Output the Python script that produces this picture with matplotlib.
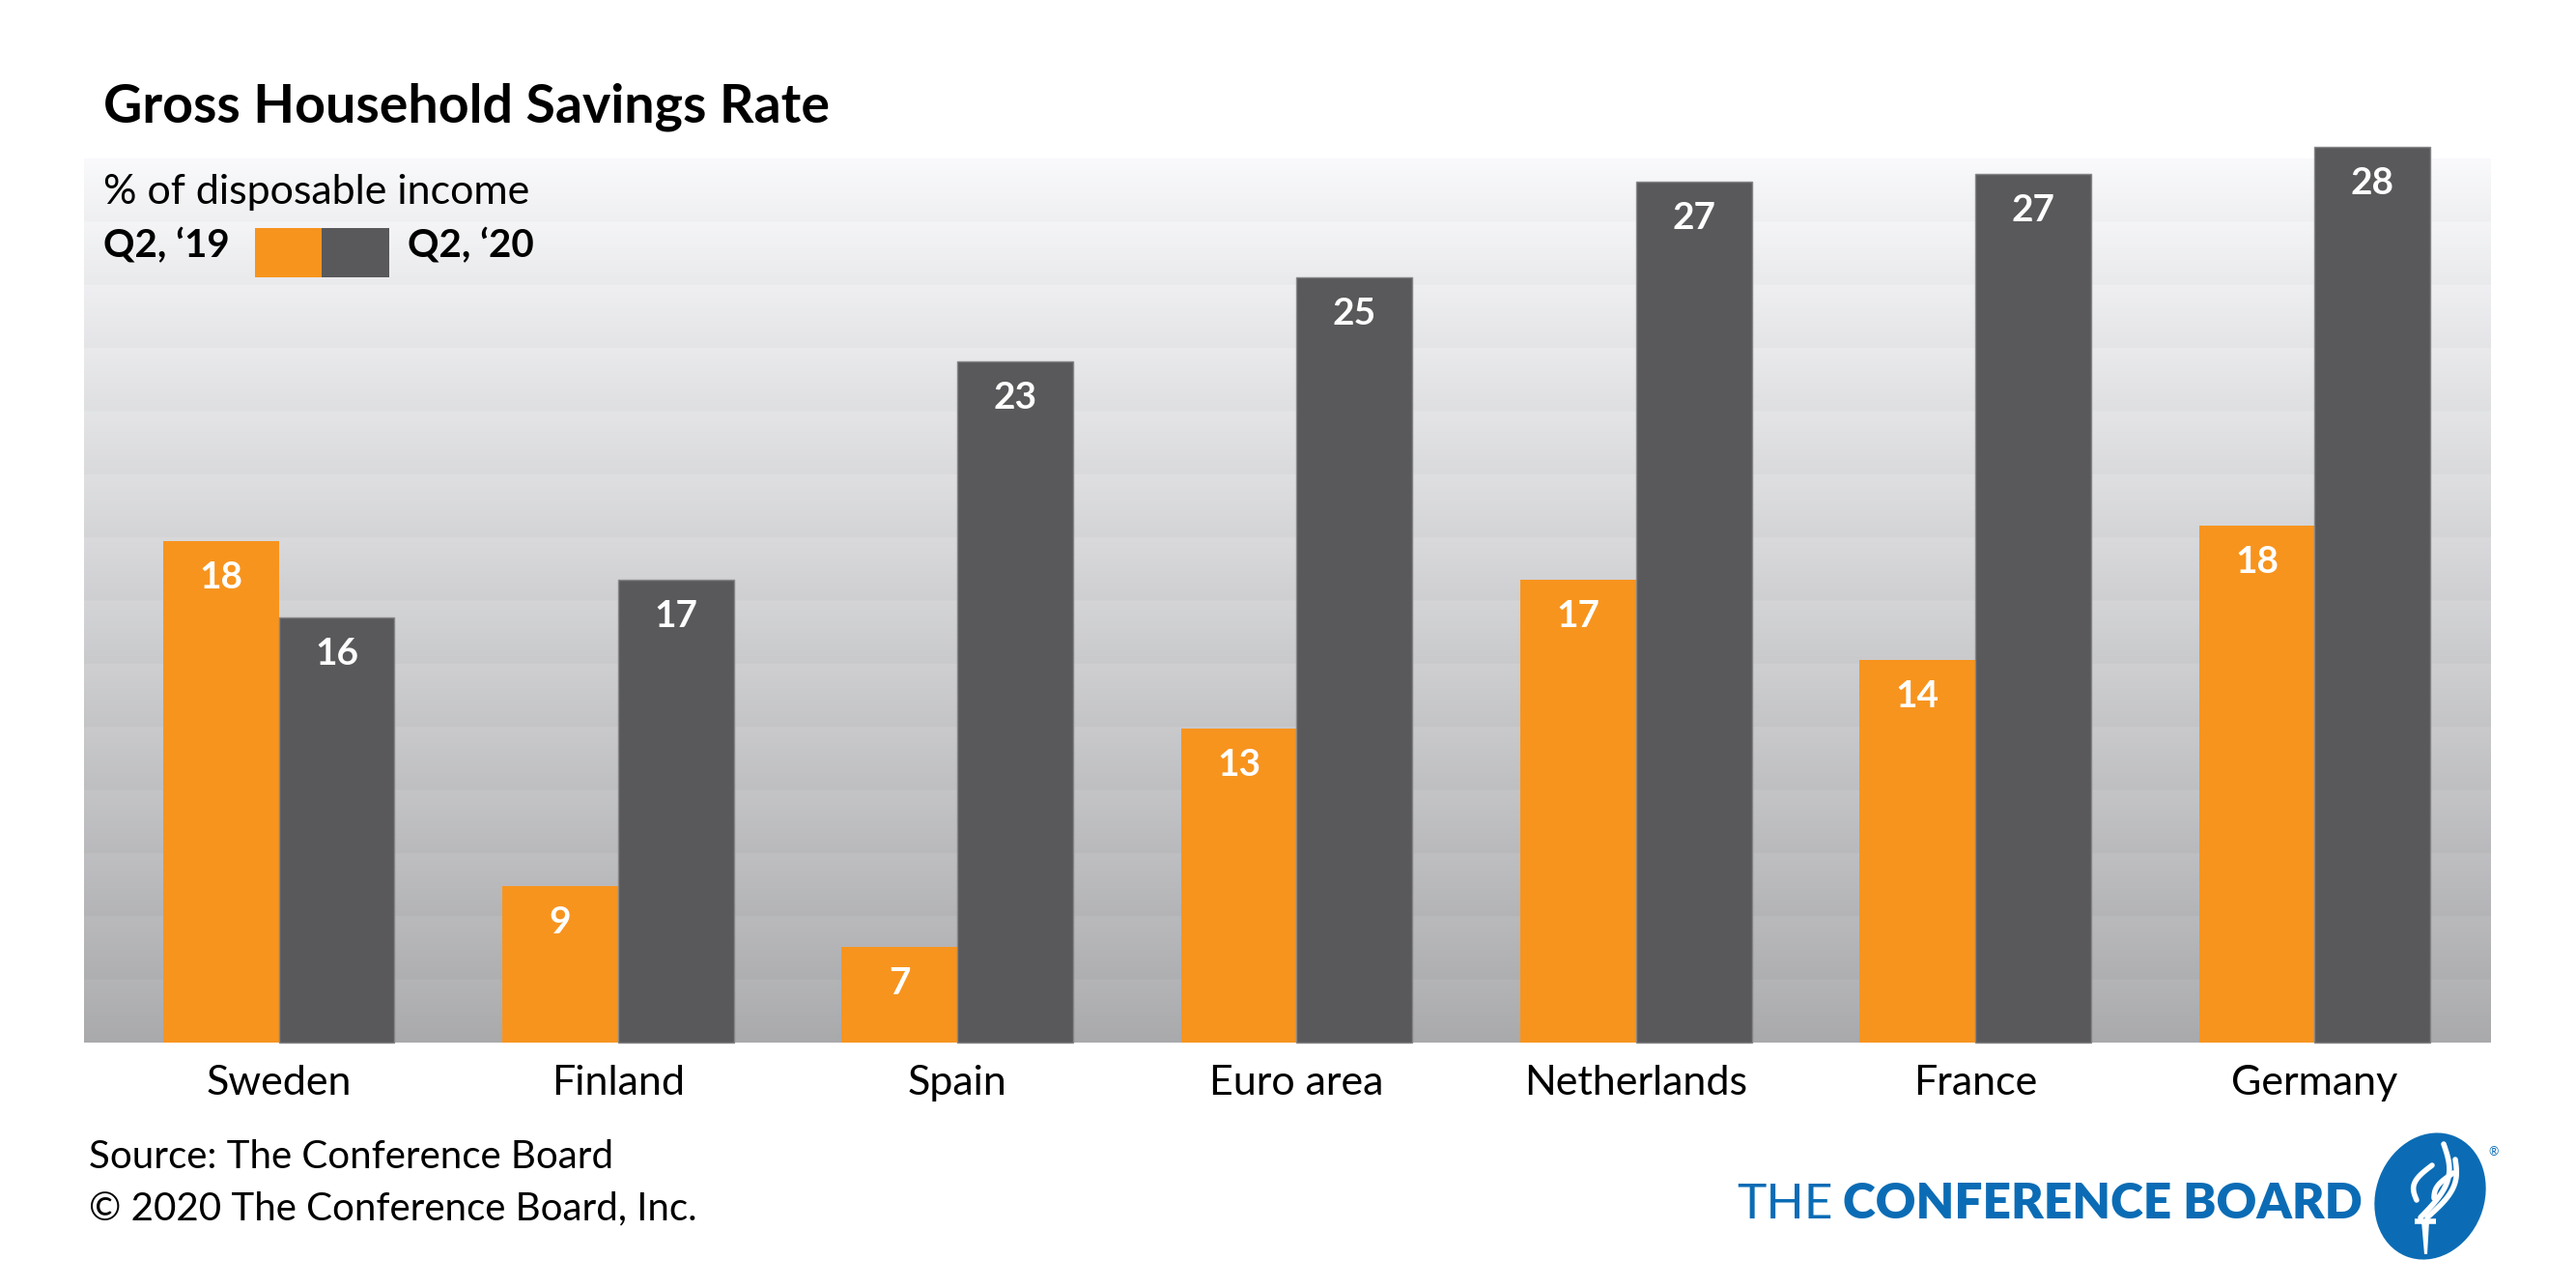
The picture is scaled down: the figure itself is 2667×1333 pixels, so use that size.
import numpy as np
import matplotlib.pyplot as plt
from matplotlib.patches import Ellipse, Rectangle

countries = ["Sweden", "Finland", "Spain", "Euro area", "Netherlands", "France", "Germany"]
# bar heights (the bars start from ~4.7, not from zero)
q2_19 = [17.8, 8.8, 7.2, 12.9, 16.8, 14.7, 18.2]
q2_20 = [15.8, 16.8, 22.5, 24.7, 27.2, 27.4, 28.1]
# numbers printed on the bars
q2_19_labels = [18, 9, 7, 13, 17, 14, 18]
q2_20_labels = [16, 17, 23, 25, 27, 27, 28]
series_names = ["Q2, \u201819", "Q2, \u201820"]

y_base = 4.7
y_top = 27.8

ORANGE = "#f7941e"
DARK = "#59595b"
BLUE = "#0b6cb5"

plt.rcParams['font.family'] = ['Lato', 'DejaVu Sans']

W, H = 2667, 1333
fig = plt.figure(figsize=(W / 100, H / 100), dpi=100)
fig.patch.set_facecolor('white')


def fx(px):
    return px / W


def fy(py):
    return 1 - py / H


ax = fig.add_axes([fx(87), fy(1079), (2579 - 87) / W, (1079 - 164) / H])

# banded grey background, each band fading darker toward its bottom
n_bands = 14
rows = 64
levels = []
for i in range(n_bands):
    top = 0.978 - i * 0.021
    levels.append(np.linspace(top, top - 0.042, rows))
g = np.concatenate(levels)
img = np.clip(np.stack([g, g + 0.002, g + 0.012], axis=1)[:, None, :], 0, 1)

x = np.arange(len(countries))
w = 0.341
x0, x1 = -0.574, len(countries) - 1 + 0.52
ax.imshow(img, extent=(x0, x1, y_base, y_top), aspect='auto',
          interpolation='bilinear', zorder=0)

b1 = ax.bar(x - w / 2, np.array(q2_19) - y_base, w, bottom=y_base,
            color=ORANGE, zorder=2, clip_on=False)
b2 = ax.bar(x + w / 2, np.array(q2_20) - y_base, w, bottom=y_base,
            color=DARK, edgecolor='#858587', linewidth=1, zorder=2, clip_on=False)

for bars, labs in [(b1, q2_19_labels), (b2, q2_20_labels)]:
    for rect, lab in zip(bars, labs):
        ax.annotate(str(lab), (rect.get_x() + rect.get_width() / 2, rect.get_y() + rect.get_height()),
                    xytext=(0, -27), textcoords='offset points', ha='center', va='center',
                    color='white', fontsize=28, fontweight='bold', annotation_clip=False)

for i, c in enumerate(countries):
    ax.annotate(c, (i, y_base), xytext=(0, -39), textcoords='offset points',
                ha='center', va='baseline', fontsize=31, color='black', annotation_clip=False)

ax.set_xlim(x0, x1)
ax.set_ylim(y_base, y_top)
ax.axis('off')

# titles
fig.text(fx(107), fy(127), "Gross Household Savings Rate", fontsize=40,
         fontweight='bold', va='baseline', ha='left')
fig.text(fx(107), fy(211), "% of disposable income", fontsize=31,
         va='baseline', ha='left')

# legend row
fig.text(fx(107), fy(266), series_names[0], fontsize=29, fontweight='bold',
         va='baseline', ha='left')
fig.add_artist(Rectangle((fx(264), fy(287)), 69 / W, 51 / H, transform=fig.transFigure,
                         color=ORANGE, lw=0))
fig.add_artist(Rectangle((fx(333), fy(287)), 70 / W, 51 / H, transform=fig.transFigure,
                         color=DARK, lw=0))
fig.text(fx(422), fy(266), series_names[1], fontsize=29, fontweight='bold',
         va='baseline', ha='left')

# footer
fig.text(fx(92), fy(1209), "Source: The Conference Board", fontsize=29,
         va='baseline', ha='left')
fig.text(fx(92), fy(1262), "\u00a9 2020 The Conference Board, Inc.", fontsize=29,
         va='baseline', ha='left')

# logo text
renderer = fig.canvas.get_renderer()
t_bold = fig.text(fx(2446), fy(1261), "CONFERENCE BOARD", fontsize=37, fontweight='heavy',
                  color=BLUE, va='baseline', ha='right')
bb = t_bold.get_window_extent(renderer)
fig.text(bb.x0 / W - 10 / W, fy(1261), "THE", fontsize=37, fontweight='normal',
         color=BLUE, va='baseline', ha='right')

# logo emblem
lax = fig.add_axes([fx(2440), fy(1310), 160 / W, 140 / H])
lax.set_xlim(0, 160)
lax.set_ylim(0, 140)
lax.set_aspect('equal')
lax.axis('off')
lax.add_patch(Ellipse((76, 72), 112, 134, angle=-22, color=BLUE, lw=0))
# torch handle
lax.plot([60, 82], [46, 46], color='white', lw=4, solid_capstyle='butt')
lax.fill([67, 75, 73, 70], [46, 46, 12, 12], color='white', lw=0)
# flames
t = np.linspace(0, 1, 30)
for (sx, sy, ex, ey, bend) in [(66, 50, 90, 126, 16), (73, 50, 102, 110, 12), (62, 68, 78, 104, -10),
                               (80, 70, 100, 96, -6)]:
    px = sx + (ex - sx) * t + bend * np.sin(np.pi * t)
    py = sy + (ey - sy) * t
    lax.plot(px, py, color='white', lw=4, solid_capstyle='round')
lax.text(142, 118, "\u00ae", fontsize=9, color=BLUE, ha='center', va='center')

fig.savefig("out.png", dpi=100, facecolor='white')
